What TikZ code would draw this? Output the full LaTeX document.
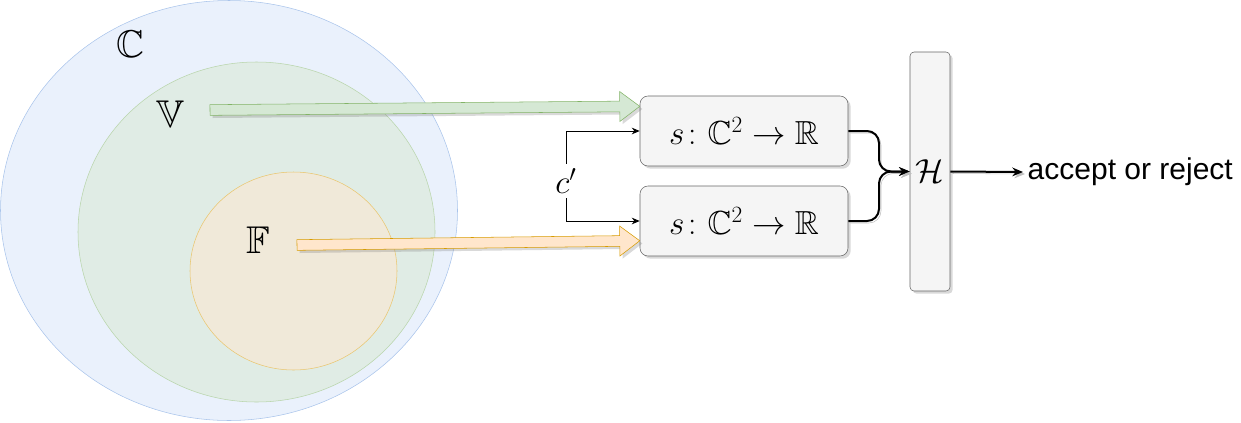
\RequirePackage{fix-cm}
\documentclass[tikz,border=0pt]{standalone}
\usepackage{amsmath}
\usepackage{amssymb}
\usepackage{fontspec}
\newfontfamily\arialfont{Liberation Sans}
\DeclareFontFamily{U}{msb}{}
\DeclareFontShape{U}{msb}{m}{n}{<-6>msbm5<6-8>msbm7<8->msbm10}{}
\usetikzlibrary{arrows.meta, calc, shadows}

\definecolor{setCfill}{HTML}{EAF1FC}
\definecolor{setCline}{HTML}{A9C4EB}
\definecolor{setVfill}{HTML}{E0ECE5}
\definecolor{setVline}{HTML}{B9D5AB}
\definecolor{setFfill}{HTML}{F0E9D9}
\definecolor{setFline}{HTML}{EAC66E}
\definecolor{vfill}{HTML}{D5E8D4}
\definecolor{vline}{HTML}{82B366}
\definecolor{ffill}{HTML}{FFE6CC}
\definecolor{fline}{HTML}{D79B00}
\definecolor{boxfill}{HTML}{F5F5F5}
\definecolor{boxline}{HTML}{666666}

\tikzstyle{arrow} = [line width=0.75pt,-{Stealth[length=6pt,width=5pt]}]
\tikzstyle{conn} = [line width=1.5pt,-{Stealth[length=8pt,width=6.5pt]},preaction={draw=black!25,transform canvas={shift={(1.5pt,-1.5pt)}}}]
\tikzstyle{shade} = [drop shadow={shadow xshift=2pt,shadow yshift=-2pt,opacity=0.3}]
\tikzstyle{scorebox} = [draw=boxline,fill=boxfill,rounded corners=6pt,minimum width=156pt,minimum height=52.5pt,shade]
\tikzstyle{setlabel} = [font=\fontsize{29}{32}\selectfont]
\tikzstyle{mathlabel} = [font=\fontsize{25}{30}\selectfont]

% block arrow: style, tail, tip
\newcommand{\blockarrow}[3]{%
\coordinate (ba) at ($(#3)!15pt!(#2)$);
\filldraw[#1] ($(#2)!4pt!90:(#3)$) -- ($(ba)!4pt!90:(#3)$) -- ($(ba)!11.25pt!90:(#3)$) -- (#3)
  -- ($(ba)!11.25pt!-90:(#3)$) -- ($(ba)!4pt!-90:(#3)$) -- ($(#2)!4pt!-90:(#3)$) -- cycle;
}

\begin{document}
\begin{tikzpicture}[x=0.75pt,y=-0.75pt]
\useasboundingbox (0,0) rectangle (1241,422);

% nested sets
\draw[fill=setCfill,draw=setCline] (229,210.5) ellipse [x radius=228.5,y radius=210];
\draw[fill=setVfill,draw=setVline] (256.5,232) ellipse [x radius=178.5,y radius=170];
\draw[fill=setFfill,draw=setFline] (293.5,271) ellipse [x radius=103.5,y radius=99];
\node[setlabel] (setC) at (130,44) {$\mathbb{C}$};
\node[setlabel] (setV) at (170,114) {$\mathbb{V}$};
\node[setlabel] (setF) at (258,240) {$\mathbb{F}$};

% score functions
\foreach \n/\y in {top/131,bot/221}
{
\node[scorebox,mathlabel] (\n) at (744,\y) {$s\colon \mathbb{C}^2 \to \mathbb{R}$};
}
\node[draw=boxline,fill=boxfill,rounded corners=3pt,minimum width=30pt,minimum height=179.25pt,inner sep=0pt,shade,mathlabel] (hbox) at (930,171.5) {$\mathcal{H}$};
\node[anchor=west,font=\arialfont\fontsize{22.5}{27}\selectfont] (verdict) at (1023,172) {accept or reject};

% inputs
\coordinate (vtail) at (210,110);
\coordinate (vtip) at ($(top.north west)!0.15!(top.south west)$);
\coordinate (ftail) at (297,245);
\coordinate (ftip) at ($(bot.north west)!0.78!(bot.south west)$);
\blockarrow{fill=vfill,draw=vline,shade}{vtail}{vtip}
\blockarrow{fill=ffill,draw=fline,shade}{ftail}{ftip}

\node[mathlabel] (cprime) at (566,181) {$c'$};
\draw[arrow] (cprime.north) |- (top.west);
\draw[arrow] (cprime.south) |- (bot.west);

% combine
\draw[conn,rounded corners=9pt] (top.east) -- ($(top.east)!0.5!(hbox.west |- top.east)$) |- (hbox.west);
\draw[conn,rounded corners=9pt] (bot.east) -- ($(bot.east)!0.5!(hbox.west |- bot.east)$) |- (hbox.west);
\draw[conn] (hbox.east) -- (verdict.west);
\end{tikzpicture}
\end{document}
